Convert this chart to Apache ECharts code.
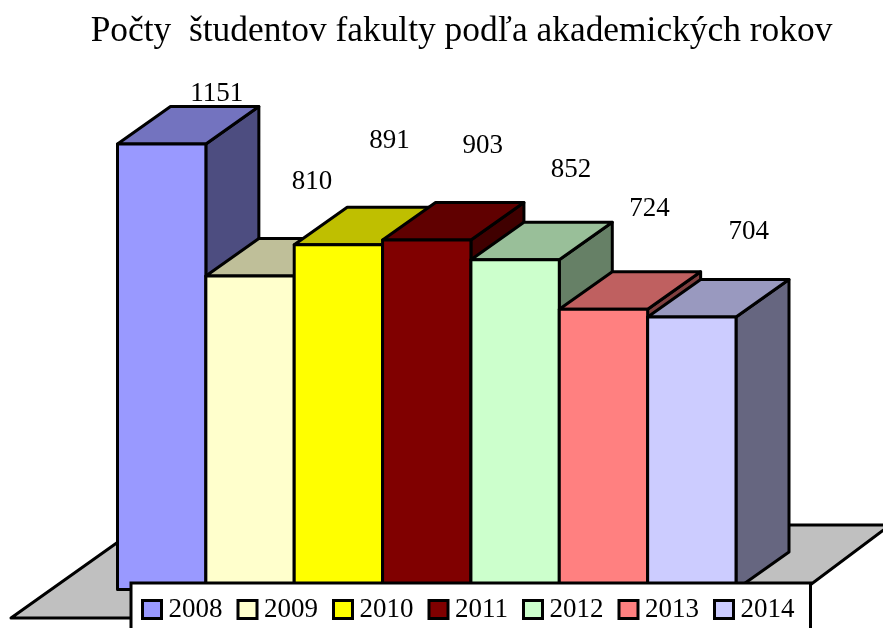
<!DOCTYPE html>
<html>
<head>
<meta charset="utf-8">
<style>html,body{margin:0;padding:0;background:#fff}#c{width:883px;height:628px}</style>
<script src="https://cdn.jsdelivr.net/npm/echarts@6/dist/echarts.min.js"></script>
</head>
<body>
<div id="c"></div>
<script>
const titleText = 'Počty  študentov fakulty podľa akademických rokov';
const years = ['2008','2009','2010','2011','2012','2013','2014'];
const students = [1151,810,891,903,852,724,704];
const frontColors = ['#9999FF','#FFFFCC','#FFFF00','#800000','#CCFFCC','#FF8080','#CCCCFF'];
const topColors   = ['#7373BF','#BFBF99','#BFBF00','#600000','#99BF99','#BF6060','#9999BF'];
const sideColors  = ['#4D4D80','#80806A','#808000','#400000','#668066','#804040','#666680'];
const labelDx = [55,62,51,56,56,46,57];
const labelDy = [-50,-94,-104,-94,-90,-100,-85];
const depthX = 53, depthY = -37.5;
const fontFamily = '"Liberation Serif", serif';
const stroke = {stroke:'#000', lineWidth:3, lineJoin:'round'};

function poly(points, fill){
  return {type:'polygon', shape:{points}, style:Object.assign({fill}, stroke)};
}
function makeRender(i){
  return function(params, api){
    const top = api.coord([api.value(0), api.value(1)]);
    const base = api.coord([api.value(0), 0]);
    const w = api.size([1,0])[0];
    const l = top[0]-w/2, r = top[0]+w/2, t = top[1], b = base[1];
    return {type:'group', children:[
      poly([[r,b],[r+depthX,b+depthY],[r+depthX,t+depthY],[r,t]], sideColors[i]),
      poly([[l,t],[l+depthX,t+depthY],[r+depthX,t+depthY],[r,t]], topColors[i]),
      poly([[l,t],[r,t],[r,b],[l,b]], frontColors[i]),
      {type:'text', z2:10, style:{text:String(api.value(1)), x:top[0]+labelDx[i], y:t+labelDy[i],
        fill:'#000', font:'27px '+fontFamily, textAlign:'center', textVerticalAlign:'middle'}}
    ]};
  };
}
const chart = echarts.init(document.getElementById('c'));
chart.setOption({
  animation:false,
  backgroundColor:'#fff',
  title:{text:titleText, left:456.5, top:9, textAlign:'center',
    textStyle:{fontFamily, fontSize:35.4, fontWeight:'normal', color:'#000'}},
  grid:{left:117.5, width:618.5, bottom:38.5, height:464.4},
  xAxis:{type:'category', data:years, show:false},
  yAxis:{type:'value', min:0, max:1200, show:false},
  legend:{
    left:131, top:583, orient:'horizontal', z:20,
    padding:[13,16,30,10], itemGap:14, itemWidth:19, itemHeight:18,
    backgroundColor:'#fff', borderColor:'#000', borderWidth:3,
    icon:'rect', selectedMode:false,
    itemStyle:{borderColor:'#000', borderWidth:3},
    textStyle:{fontFamily, fontSize:27, color:'#000', padding:[0,0,0,2]},
    data:years
  },
  graphic:[{type:'polygon', z:-1, silent:true,
    shape:{points:[[11,618],[142,525],[890,525],[766,618]]},
    style:{fill:'#C0C0C0', stroke:'#000', lineWidth:3, lineJoin:'round'}}],
  series:years.map((y,i)=>({
    type:'custom', name:y, silent:true, z:2+i,
    itemStyle:{color:frontColors[i]},
    renderItem:makeRender(i), clip:false,
    encode:{x:0,y:1},
    data:[[i,students[i]]]
  }))
});
</script>
</body>
</html>
